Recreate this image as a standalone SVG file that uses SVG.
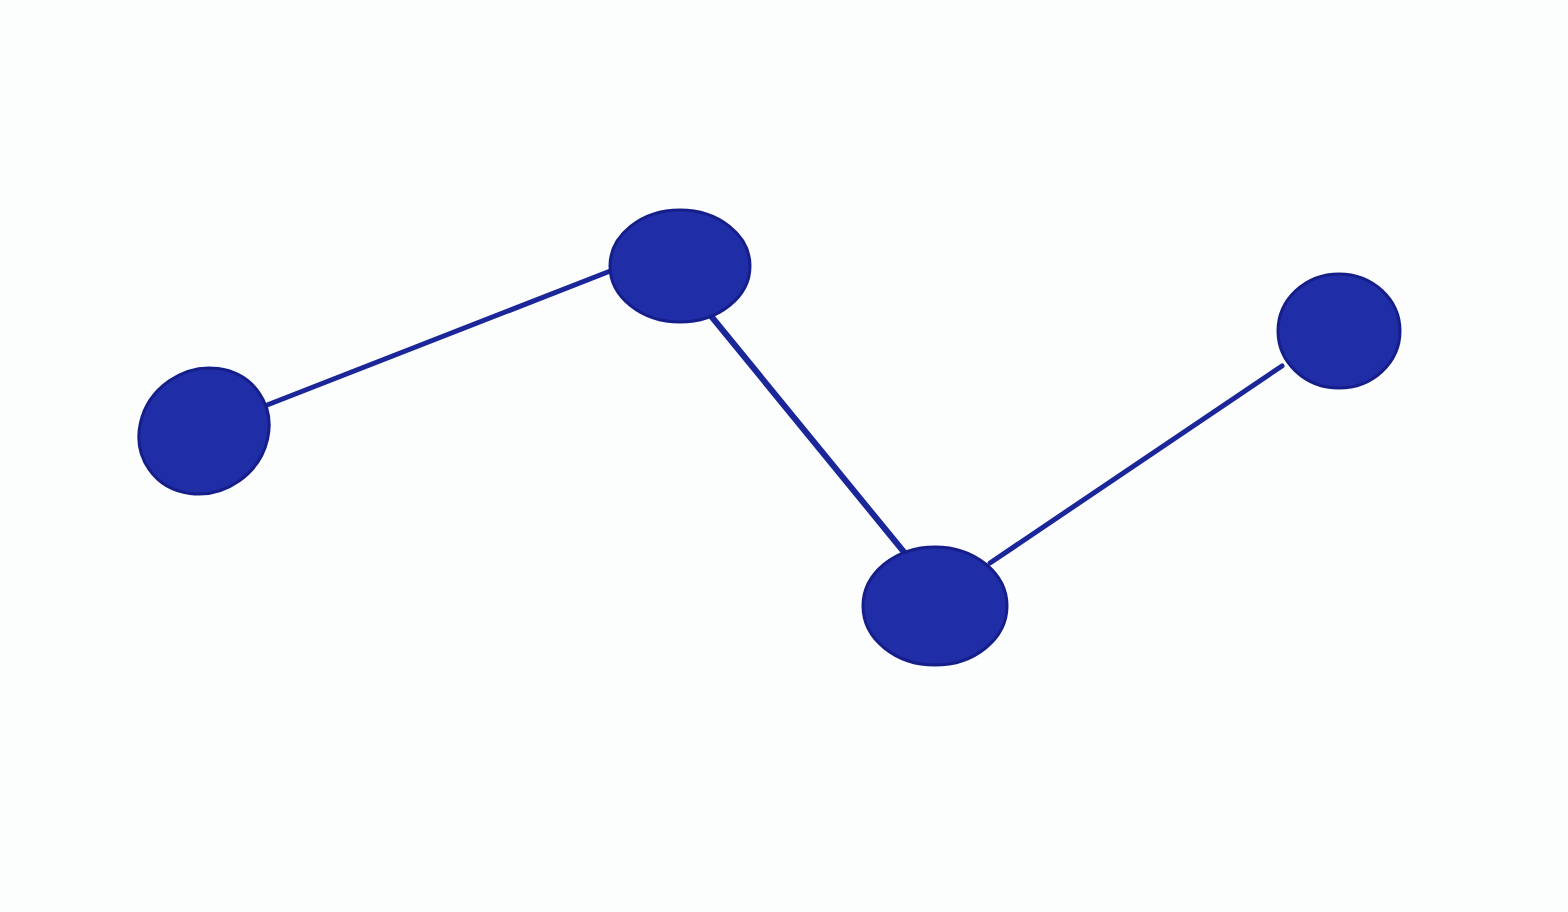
<svg xmlns="http://www.w3.org/2000/svg" width="1568" height="912" viewBox="0 0 1568 912">
<style>
.node{fill:#1f2ea6;stroke:#161e8a;stroke-width:3}
.edge{stroke:#1b2698;stroke-linecap:round;fill:none}
</style>
<rect width="1568" height="912" fill="#fcfefe"/>
<g id="connectors">
<line class="edge" x1="262" y1="407" x2="618" y2="268" stroke-width="5"/>
<line class="edge" x1="702" y1="305" x2="908" y2="557" stroke-width="6"/>
<line class="edge" x1="990" y1="563" x2="1282" y2="366" stroke-width="5"/>
</g>
<g id="node1"><ellipse class="node" cx="204" cy="431" rx="67" ry="61" transform="rotate(-35 204 431)"/></g>
<g id="node2"><ellipse class="node" cx="680" cy="266" rx="70" ry="56"/></g>
<g id="node3"><ellipse class="node" cx="935" cy="606" rx="72" ry="59"/></g>
<g id="node4"><ellipse class="node" cx="1339" cy="331" rx="61" ry="57"/></g>
</svg>
